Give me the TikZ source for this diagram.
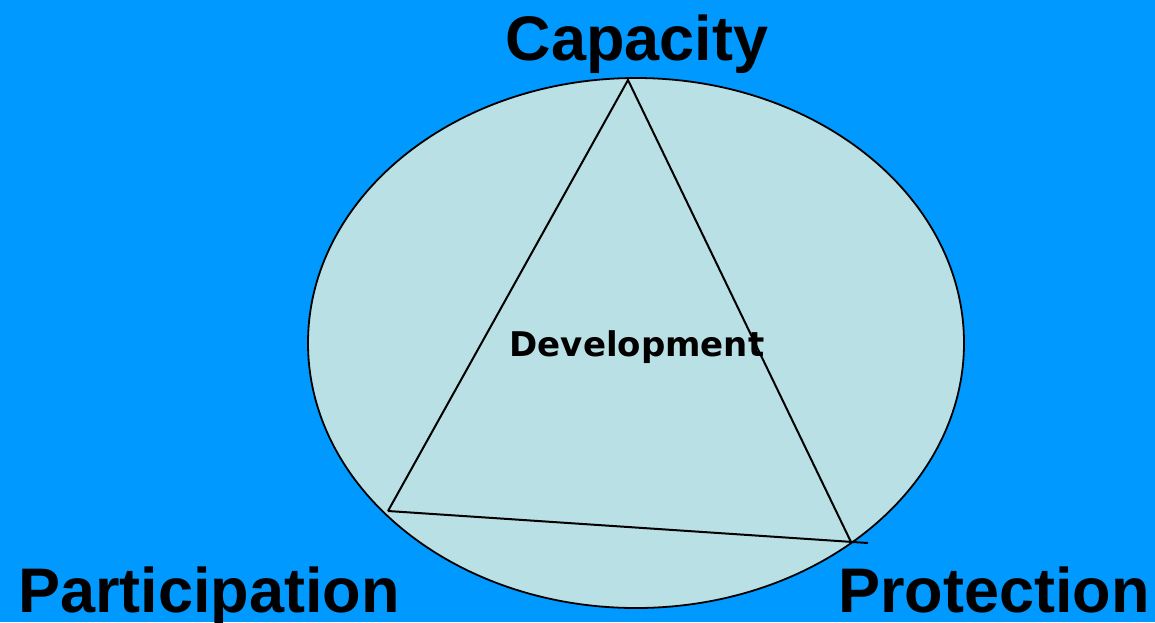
\documentclass[tikz,border=0pt]{standalone}
\usepackage{fontspec}
\setmainfont{Liberation Sans}
\newfontfamily\devfont{DejaVu Sans}
\usepackage{tikz}
\usetikzlibrary{positioning, calc}

\definecolor{skyblue}{HTML}{0099FF}
\definecolor{paleblue}{HTML}{B9E0E4}

\tikzset{
  corner/.style={font=\fontsize{63}{63}\selectfont\bfseries, anchor=base},
  edge/.style={line width=2pt, line join=miter}
}

\begin{document}
\begin{tikzpicture}[x=1pt, y=-1pt]
\fill [skyblue] (0,0) rectangle (1155,622);
\useasboundingbox (0,0) rectangle (1155,622);

\coordinate (M) at (636,343);
\draw [paleblue, fill=paleblue] (M) ellipse [x radius=328, y radius=265];
\draw [line width=1.8pt] (M) ellipse [x radius=328, y radius=265];

\coordinate (T) at (628,80);
\coordinate (L) at (388,511);
\coordinate (R) at (851,542);
\coordinate (E) at (868,543);

\draw [edge] (L)--(T)--(R);
\draw [edge] (L)--(E);

\node [corner] (cap) at (637,60) {Capacity};
\node [corner] (part) at (209,612) {Participation};
\node [corner] (prot) at (994,612) {Protection};
\node [font=\devfont\fontsize{34}{34}\selectfont\bfseries, anchor=base] (dev) at (637,356) {Development};
\end{tikzpicture}
\end{document}
